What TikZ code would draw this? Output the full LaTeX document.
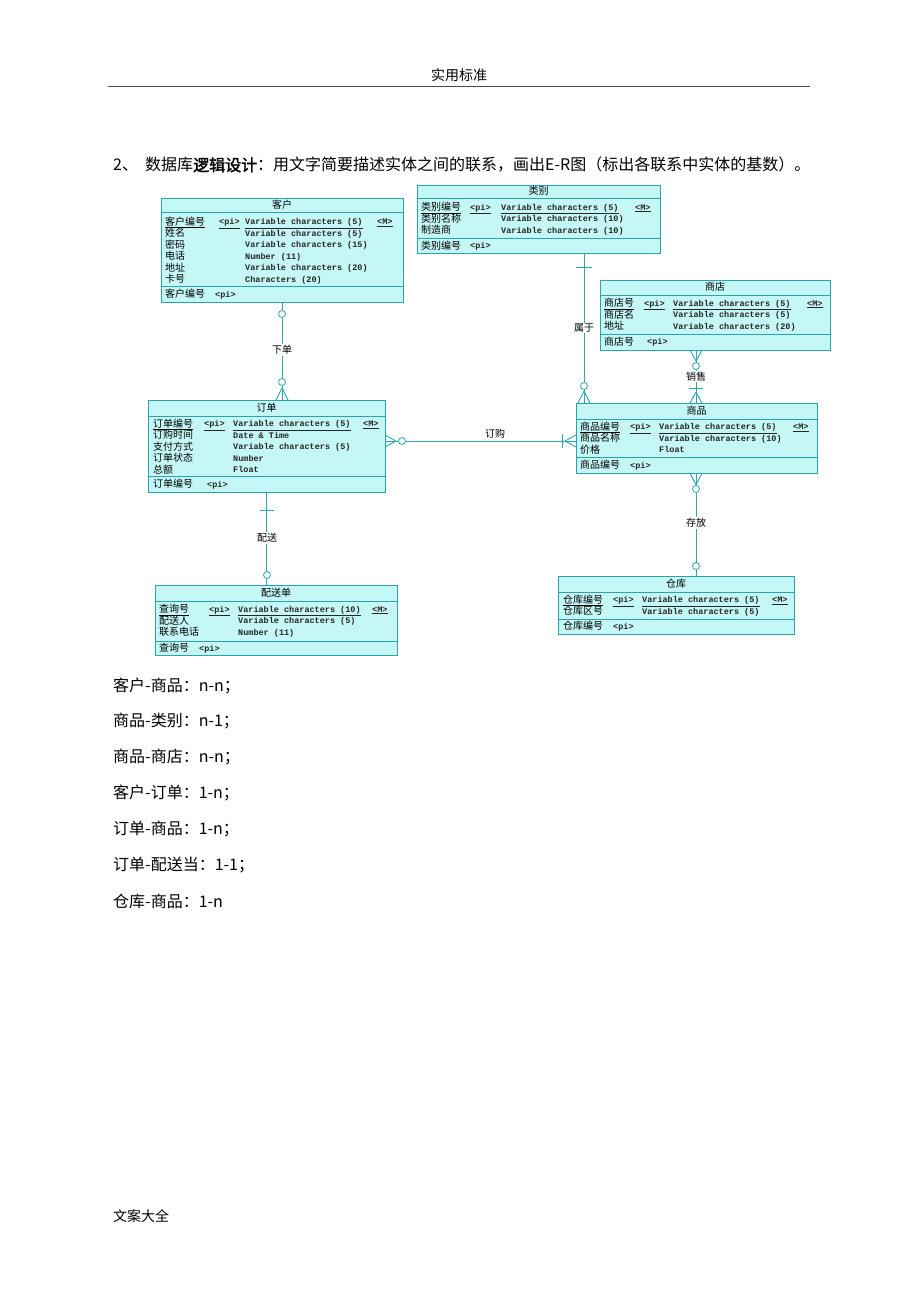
\documentclass[tikz,border=0pt]{standalone}
\usepackage{fontspec}
\setmainfont{Noto Sans CJK SC}[AutoFakeBold=2]
\newfontfamily\monof{Liberation Mono}
\usetikzlibrary{calc}
\definecolor{entfill}{RGB}{198,247,247}
\definecolor{entline}{RGB}{40,165,170}
\definecolor{conn}{RGB}{45,170,175}
\newcounter{tn}
\tikzset{
  entbox/.style={draw=entline, fill=entfill, line width=0.9pt, inner sep=0pt, outer sep=0pt, rectangle},
  sepline/.style={draw=entline, line width=0.8pt},
  cjkt/.style={font=\fontsize{10}{12}\selectfont, inner sep=0pt, anchor=base west},
  monot/.style={font=\monof\bfseries\fontsize{8.5}{10}\selectfont, inner sep=0pt, anchor=base west, text=black!85},
  lbl/.style={font=\fontsize{10}{12}\selectfont, fill=white, inner sep=1pt},
  rel/.style={draw=conn, line width=0.9pt},
  ring/.style={circle, draw=conn, fill=white, minimum size=7pt, inner sep=0pt, line width=0.8pt},
  body/.style={font=\fontsize{16}{19}\selectfont, inner sep=0pt, anchor=west},
}
\newcommand\ttl[3]{\stepcounter{tn}\node[cjkt, anchor=base] (t\arabic{tn}) at (#1,{#2+3.6}) {#3};}
\newcommand\attr[5]{%
  \stepcounter{tn}\node[cjkt] (t\arabic{tn}) at (#2,{#1+3.6}) {#3};
  \stepcounter{tn}\node[monot] (t\arabic{tn}) at (#4,{#1+3.2}) {#5};}
\newcommand\pkrow[7]{%
  \stepcounter{tn}\node[cjkt] (t\arabic{tn}) at (#2,{#1+3.6}) {\underline{#3}};
  \stepcounter{tn}\node[monot] (t\arabic{tn}) at (#4,{#1+3.2}) {\underline{<pi>}};
  \stepcounter{tn}\node[monot] (t\arabic{tn}) at (#5,{#1+3.2}) {\underline{#6}};
  \stepcounter{tn}\node[monot] (t\arabic{tn}) at (#7,{#1+3.2}) {\underline{<M>}};}
\newcommand\keyrow[4]{%
  \stepcounter{tn}\node[cjkt] (t\arabic{tn}) at (#2,{#1+3.6}) {#3};
  \stepcounter{tn}\node[monot] (t\arabic{tn}) at (#4,{#1+3.2}) {<pi>};}
\begin{document}
\begin{tikzpicture}[x=1pt,y=-1pt]
\useasboundingbox (0,0) rectangle (920,1302);
\fill[white] (0,0) rectangle (920,1302);

% header / footer
\node[font=\fontsize{14}{16}\selectfont, inner sep=0pt] (hdr) at (459,75) {实用标准};
\draw[black!70, line width=0.8pt] (108,86) -- (810,86);
\node[font=\fontsize{14}{16}\selectfont, inner sep=0pt, anchor=west] (ftr) at (113,1216) {文案大全};

% title line
\node[body] (q2) at (113,165) {2、};
\node[body] (qtxt) at (145,165) {数据库\textbf{逻辑设计}：用文字简要描述实体之间的联系，画出E-R图（标出各联系中实体的基数）。};

% ===== 客户 =====
\node[entbox, minimum width=242pt, minimum height=104pt, anchor=north west] (kehu) at (161,198) {};
\draw[sepline] (161,212) -- (403,212) (161,286) -- (403,286);
\ttl{282}{205}{客户}
\pkrow{221.5}{165}{客户编号}{219}{245}{Variable characters (5)}{377}
\attr{233}{165}{姓名}{245}{Variable characters (5)}
\attr{244.5}{165}{密码}{245}{Variable characters (15)}
\attr{256}{165}{电话}{245}{Number (11)}
\attr{267.5}{165}{地址}{245}{Variable characters (20)}
\attr{279}{165}{卡号}{245}{Characters (20)}
\keyrow{294}{165}{客户编号}{215}

% ===== 类别 =====
\node[entbox, minimum width=243pt, minimum height=68pt, anchor=north west] (leibie) at (417,185) {};
\draw[sepline] (417,198) -- (660,198) (417,238) -- (660,238);
\ttl{538.5}{191}{类别}
\pkrow{207}{421}{类别编号}{470}{501}{Variable characters (5)}{635}
\attr{218.5}{421}{类别名称}{501}{Variable characters (10)}
\attr{230}{421}{制造商}{501}{Variable characters (10)}
\keyrow{245.5}{421}{类别编号}{470}

% ===== 商店 =====
\node[entbox, minimum width=230pt, minimum height=70pt, anchor=north west] (shangdian) at (600,280) {};
\draw[sepline] (600,295) -- (830,295) (600,334) -- (830,334);
\ttl{715}{287}{商店}
\pkrow{303}{604}{商店号}{644}{673}{Variable characters (5)}{807}
\attr{314.5}{604}{商店名}{673}{Variable characters (5)}
\attr{326}{604}{地址}{673}{Variable characters (20)}
\keyrow{341.5}{604}{商店号}{647}

% ===== 订单 =====
\node[entbox, minimum width=237pt, minimum height=92pt, anchor=north west] (dingdan) at (148,400) {};
\draw[sepline] (148,416) -- (385,416) (148,476) -- (385,476);
\ttl{266.5}{408}{订单}
\pkrow{423.5}{153}{订单编号}{204}{233}{Variable characters (5)}{363}
\attr{435}{153}{订购时间}{233}{Date \& Time}
\attr{446.5}{153}{支付方式}{233}{Variable characters (5)}
\attr{458}{153}{订单状态}{233}{Number}
\attr{469.5}{153}{总额}{233}{Float}
\keyrow{484}{153}{订单编号}{207}

% ===== 商品 =====
\node[entbox, minimum width=241pt, minimum height=70pt, anchor=north west] (shangpin) at (576,403) {};
\draw[sepline] (576,419) -- (817,419) (576,457) -- (817,457);
\ttl{696.5}{411}{商品}
\pkrow{426.5}{580}{商品编号}{630}{659}{Variable characters (5)}{793}
\attr{438}{580}{商品名称}{659}{Variable characters (10)}
\attr{449.5}{580}{价格}{659}{Float}
\keyrow{465}{580}{商品编号}{630}

% ===== 配送单 =====
\node[entbox, minimum width=242pt, minimum height=70pt, anchor=north west] (peisong) at (155,585) {};
\draw[sepline] (155,601) -- (397,601) (155,641) -- (397,641);
\ttl{276}{593}{配送单}
\pkrow{609}{159}{查询号}{209}{238}{Variable characters (10)}{372}
\attr{620.5}{159}{配送人}{238}{Variable characters (5)}
\attr{632}{159}{联系电话}{238}{Number (11)}
\keyrow{648}{159}{查询号}{199}

% ===== 仓库 =====
\node[entbox, minimum width=236pt, minimum height=58pt, anchor=north west] (cangku) at (558,576) {};
\draw[sepline] (558,592) -- (794,592) (558,619) -- (794,619);
\ttl{676}{584}{仓库}
\pkrow{599.5}{563}{仓库编号}{613}{642}{Variable characters (5)}{772}
\attr{611}{563}{仓库区号}{642}{Variable characters (5)}
\keyrow{626}{563}{仓库编号}{613}

% ===== connectors =====
% 客户 - 订单 (下单)
\draw[rel] (kehu.south) -- (kehu.south |- dingdan.north);
\draw[rel] (282,388) -- (276,400) (282,388) -- (288,400);
\node[ring] (r1) at (282,314) {};
\node[ring] (r2) at (282,382) {};
\node[lbl] (l1) at (282,350) {下单};

% 订单 - 商品 (订购)
\coordinate (gA) at ([yshift=-3pt]shangpin.west);
\draw[rel] (dingdan.east |- gA) -- (gA);
\draw[rel] (396,441) -- (385,435) (396,441) -- (385,447);
\draw[rel] (565,441) -- (576,435) (565,441) -- (576,447);
\draw[rel] (562,434) -- (562,448);
\node[ring] (r3) at (402,441) {};
\node[font=\fontsize{10}{12}\selectfont, inner sep=0pt] (l2) at (495,434) {订购};

% 类别 - 商品 (属于)
\coordinate (lb) at ([xshift=167pt]leibie.south west);
\draw[rel] (lb) -- (lb |- shangpin.north);
\draw[rel] (576,267) -- (592,267);
\draw[rel] (584,391) -- (578,403) (584,391) -- (590,403);
\node[ring] (r4) at (584,386) {};
\node[lbl] (l3) at (584,328) {属于};

% 商店 - 商品 (销售)
\draw[rel] (shangpin.north) -- (shangpin.north |- shangdian.south);
\draw[rel] (696,361) -- (690,350) (696,361) -- (702,350);
\draw[rel] (696,392) -- (690,403) (696,392) -- (702,403);
\node[ring] (r5) at (696,366) {};
\node[lbl, inner sep=0.5pt] (l4) at (696,376.5) {销售};
\draw[rel] (689,388) -- (703,388);

% 商品 - 仓库 (存放)
\draw[rel] (shangpin.south) -- (shangpin.south |- cangku.north);
\draw[rel] (696,485) -- (690,473) (696,485) -- (702,473);
\node[ring] (r6) at (696,489) {};
\node[ring] (r7) at (696,566) {};
\node[lbl] (l5) at (696,523) {存放};

% 订单 - 配送单 (配送)
\draw[rel] (dingdan.south) -- (dingdan.south |- peisong.north);
\draw[rel] (260,510) -- (274,510);
\node[ring] (r8) at (267,575) {};
\node[lbl] (l6) at (267,538) {配送};

% ===== text below =====
\node[body] (s1) at (113,686) {客户-商品：n-n；};
\node[body] (s2) at (113,721) {商品-类别：n-1；};
\node[body] (s3) at (113,757) {商品-商店：n-n；};
\node[body] (s4) at (113,793) {客户-订单：1-n；};
\node[body] (s5) at (113,829) {订单-商品：1-n；};
\node[body] (s6) at (113,865) {订单-配送当：1-1；};
\node[body] (s7) at (113,901) {仓库-商品：1-n};
\end{tikzpicture}
\end{document}
